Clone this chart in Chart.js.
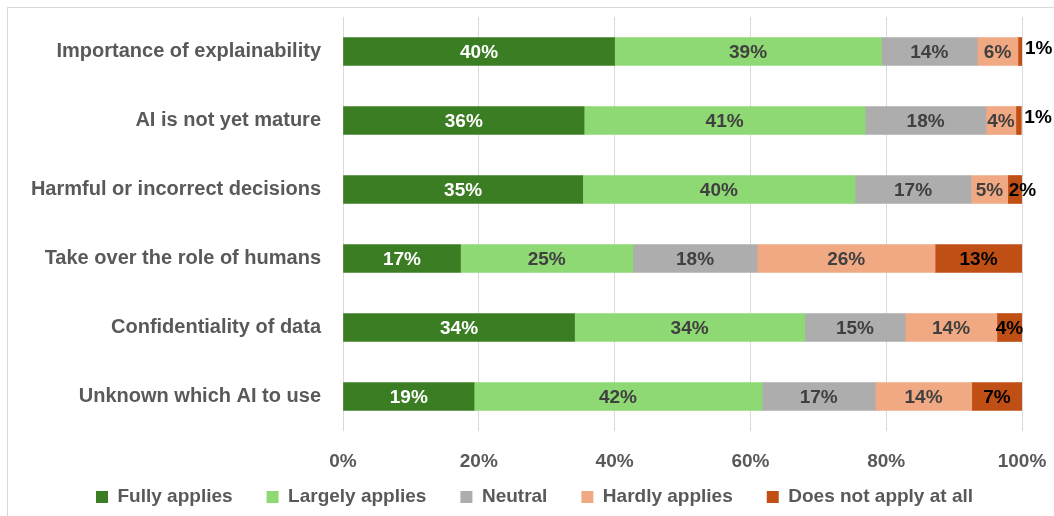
<!DOCTYPE html>
<html>
<head>
<meta charset="utf-8">
<script src="https://cdn.jsdelivr.net/npm/chart.js@4/dist/chart.umd.min.js"></script>
<style>
  html, body { margin: 0; padding: 0; background: #fff; }
  #wrap { position: relative; width: 1054px; height: 516px; overflow: hidden; }
  #frame { position: absolute; left: 7px; top: 7px; width: 1100px; height: 600px; border: 1px solid #d9d9d9; box-sizing: border-box; }
  #chart { position: absolute; left: 0; top: 0; }
</style>
</head>
<body>
<div id="wrap">
  <div id="frame"></div>
  <canvas id="chart" width="1054" height="516"></canvas>
</div>
<script>
const categories = [
  "Importance of explainability",
  "AI is not yet mature",
  "Harmful or incorrect decisions",
  "Take over the role of humans",
  "Confidentiality of data",
  "Unknown which AI to use"
];

const seriesNames = ["Fully applies", "Largely applies", "Neutral", "Hardly applies", "Does not apply at all"];

const fullyApplies   = [40.0, 35.5, 35.3, 17.3, 34.1, 19.3];
const largelyApplies = [39.3, 41.4, 40.1, 25.4, 33.9, 42.4];
const neutral        = [14.1, 17.8, 17.1, 18.3, 14.8, 16.7];
const hardlyApplies  = [6.0, 4.4, 5.4, 26.2, 13.5, 14.2];
const doesNotApply   = [0.6, 0.8, 2.1, 12.8, 3.7, 7.4];

const xTicks = [0, 20, 40, 60, 80, 100];

const colors = ["#3b7d23", "#8ed973", "#adadad", "#f1a983", "#c04f15"];
const labelColors = ["#ffffff", "#404040", "#404040", "#404040", "#000000"];
const seriesValues = [fullyApplies, largelyApplies, neutral, hardlyApplies, doesNotApply];

const datasets = seriesNames.map((name, i) => ({
  label: name,
  data: seriesValues[i],
  backgroundColor: colors[i],
  borderWidth: 0,
  barThickness: 28
}));

// data labels inside the segments (tiny ones go right of the bar)
const segmentLabels = {
  id: "segmentLabels",
  afterDatasetsDraw(chart) {
    const ctx = chart.ctx;
    ctx.save();
    ctx.font = "bold 19px 'Liberation Sans', Arial, sans-serif";
    ctx.textBaseline = "middle";
    chart.data.datasets.forEach((ds, di) => {
      const meta = chart.getDatasetMeta(di);
      meta.data.forEach((bar, i) => {
        const v = ds.data[i];
        const text = Math.round(v) + "%";
        ctx.fillStyle = labelColors[di];
        if (v < 1) {
          ctx.fillStyle = "#000000";
          ctx.textAlign = "left";
          ctx.fillText(text, bar.x + 3, bar.y - 3);
        } else if (v < 3) {
          ctx.textAlign = "left";
          ctx.fillText(text, bar.base + 1, bar.y + 1);
        } else {
          ctx.textAlign = "center";
          ctx.fillText(text, (bar.x + bar.base) / 2, bar.y + 1);
        }
      });
    });
    ctx.restore();
  }
};

// move the legend block so it sits centred under the whole chart like the original
const legendPlace = {
  id: "legendPlace",
  afterLayout(chart) {
    const lg = chart.legend;
    lg.left = 47;
    lg.top = 453.5;
  }
};

new Chart(document.getElementById("chart"), {
  type: "bar",
  data: { labels: categories, datasets },
  options: {
    indexAxis: "y",
    responsive: false,
    animation: false,
    layout: { padding: { top: 17, right: 32, left: 0, bottom: 0 } },
    scales: {
      x: {
        stacked: true,
        min: 0,
        max: 100,
        afterBuildTicks(scale) {
          scale.ticks = xTicks.map(v => ({ value: v }));
        },
        afterFit(scale) {
          scale.height = 45;
          scale.paddingLeft = 0;
          scale.paddingRight = 0;
        },
        grid: { color: "#d9d9d9", drawTicks: false, lineWidth: 1 },
        border: { display: false },
        ticks: {
          padding: 19,
          color: "#595959",
          font: { family: "'Liberation Sans', Arial, sans-serif", size: 19, weight: "bold" },
          callback: v => v + "%"
        }
      },
      y: {
        stacked: true,
        afterFit(scale) {
          scale.width = 343;
          scale.paddingTop = 0;
          scale.paddingBottom = 0;
        },
        grid: { display: false, drawTicks: false },
        border: { display: false },
        ticks: {
          padding: 22,
          color: "#595959",
          font: { family: "'Liberation Sans', Arial, sans-serif", size: 20, weight: "bold" }
        }
      }
    },
    plugins: {
      tooltip: { enabled: false },
      legend: {
        position: "bottom",
        maxHeight: 40,
        labels: {
          boxWidth: 12,
          boxHeight: 12,
          padding: 34,
          color: "#595959",
          font: { family: "'Liberation Sans', Arial, sans-serif", size: 19, weight: "bold" }
        }
      }
    }
  },
  plugins: [segmentLabels, legendPlace]
});
</script>
</body>
</html>
